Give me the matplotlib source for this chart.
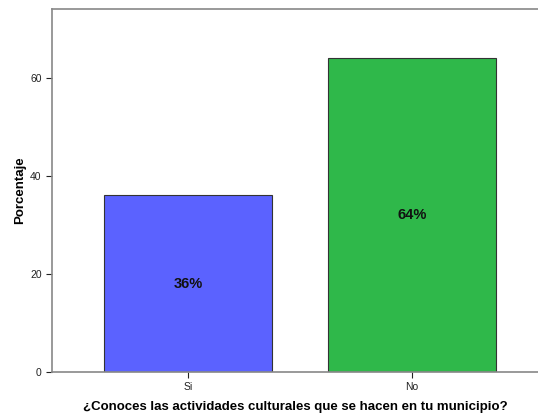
import matplotlib as mpl
mpl.use('Agg')
import matplotlib.pyplot as plt

plt.rcParams['font.family'] = ['Liberation Sans', 'DejaVu Sans']

categorias = ["Si", "No"]
porcentajes = [36.0, 64.0]
etiquetas = ["36%", "64%"]
colores = ["#5b62ff", "#2fb84a"]

fig = plt.figure(figsize=(5.38, 4.13), dpi=100)
ax = fig.add_axes([52/538, 41/413, 486/538, 362.7/413])

x = range(len(categorias))
ax.bar(x, porcentajes, width=0.752, color=colores, edgecolor="#333333", linewidth=0.8)
for i, (v, t) in enumerate(zip(porcentajes, etiquetas)):
    ax.text(i, v / 2, t, ha="center", va="center", fontsize=10.5, fontweight="bold", color="#111111")

ax.set_xlim(-0.61, 1.565)
ax.set_ylim(0, 73.9)
ax.set_yticks([0, 20, 40, 60])
ax.set_xticks(list(x))
ax.set_xticklabels(categorias)
ax.tick_params(labelsize=7.5, colors="#222222", length=4)
for s in ["left", "bottom", "top"]:
    ax.spines[s].set_color("#888888")
    ax.spines[s].set_linewidth(1.2)
ax.spines["right"].set_visible(False)

ax.set_ylabel("Porcentaje", fontsize=9.5, fontweight="bold")
ax.yaxis.set_label_coords(-0.054, 0.5)
ax.set_xlabel("¿Conoces las actividades culturales que se hacen en tu municipio?", fontsize=9.5, fontweight="bold", labelpad=6)

plt.savefig("out.png", dpi=100)
